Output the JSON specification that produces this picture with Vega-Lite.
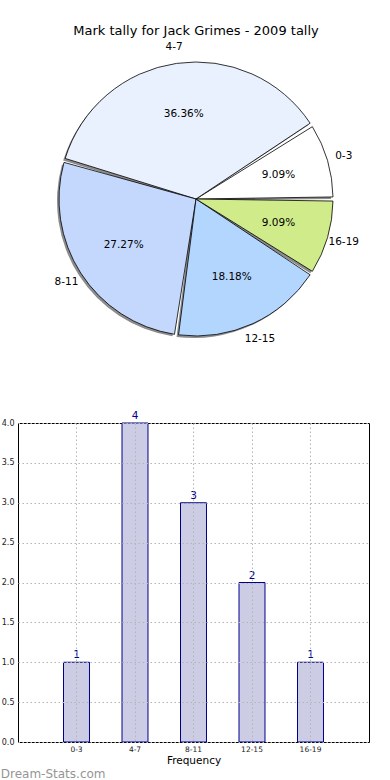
{
  "$schema": "https://vega.github.io/schema/vega-lite/v6.json",
  "padding": {"left": 0, "top": 24, "right": 0, "bottom": 0},
  "background": "white",
  "config": {"font": "DejaVu Sans"},
  "datasets": {
    "tally": [
      {"range": "0-3", "lo": 0, "count": 1, "pct": "9.09%"},
      {"range": "4-7", "lo": 4, "count": 4, "pct": "36.36%"},
      {"range": "8-11", "lo": 8, "count": 3, "pct": "27.27%"},
      {"range": "12-15", "lo": 12, "count": 2, "pct": "18.18%"},
      {"range": "16-19", "lo": 16, "count": 1, "pct": "9.09%"}
    ]
  },
  "title": {"text": "Dream-Stats.com", "orient": "bottom", "anchor": "start", "fontSize": 12, "fontWeight": "normal", "color": "#959595", "offset": 2},
  "spacing": 60,
  "vconcat": [
    {
      "width": 356,
      "height": 302,
      "view": {"stroke": null},
      "title": {"text": "Mark tally for Jack Grimes - 2009 tally", "fontSize": 13, "fontWeight": "normal", "color": "#000000", "offset": 4},
      "data": {"name": "tally"},
      "encoding": {
        "theta": {"field": "count", "type": "quantitative", "stack": true, "scale": {"range": [1.5708, -4.7124]}},
        "order": {"field": "lo", "type": "quantitative"}
      },
      "layer": [
        {
          "mark": {"type": "arc", "outerRadius": 137, "padAngle": 0.03, "fill": "#8c8c8c", "xOffset": -2, "yOffset": 2}
        },
        {
          "mark": {"type": "arc", "outerRadius": 137, "padAngle": 0.03, "stroke": "#000000", "strokeWidth": 0.8},
          "encoding": {
            "color": {"field": "range", "type": "nominal", "legend": null,
              "scale": {"domain": ["0-3", "4-7", "8-11", "12-15", "16-19"], "range": ["#ffffff", "#eaf1fe", "#c4d8fe", "#b3d6fe", "#d0eb8a"]}}
          }
        },
        {
          "mark": {"type": "text", "radius": 86, "fontSize": 10.5, "color": "#000000"},
          "encoding": {"text": {"field": "pct", "type": "nominal"}}
        },
        {
          "mark": {"type": "text", "radius": 154, "fontSize": 10.5, "color": "#000000"},
          "encoding": {"text": {"field": "range", "type": "nominal"}}
        }
      ]
    },
    {
      "width": 351,
      "height": 319,
      "view": {"stroke": "#000000", "strokeWidth": 1},
      "data": {"name": "tally"},
      "encoding": {
        "x": {"field": "range", "type": "nominal", "sort": ["0-3", "4-7", "8-11", "12-15", "16-19"],
          "scale": {"paddingInner": 0.5556, "paddingOuter": 0.7778},
          "axis": {"title": "Frequency", "titleFontSize": 10.5, "titleFontWeight": "normal", "titlePadding": 3, "labelAngle": 0, "labelFontSize": 7.5, "labelPadding": 3, "ticks": false, "domain": false,
            "grid": true, "bandPosition": 0.5, "gridColor": "#b5b5b5", "gridDash": [1.5, 2.5], "gridWidth": 1, "zindex": 1, "labelColor": "#222222", "titleColor": "#000000"}},
        "y": {"field": "count", "type": "quantitative", "scale": {"domain": [0, 4], "nice": false},
          "axis": {"title": null, "values": [0, 0.5, 1, 1.5, 2, 2.5, 3, 3.5, 4], "format": ".1f", "labelFontSize": 8, "labelPadding": 4, "labelOverlap": false, "ticks": false, "domain": false,
            "grid": true, "gridColor": "#b5b5b5", "gridDash": [1.5, 2.5], "gridWidth": 1, "zindex": 1, "minExtent": 16, "maxExtent": 16, "labelColor": "#222222"}}
      },
      "layer": [
        {
          "mark": {"type": "bar", "fill": "#ccccE5", "stroke": "#00008b", "strokeWidth": 1}
        },
        {
          "mark": {"type": "text", "baseline": "bottom", "dy": -2, "color": "#00008b", "fontSize": 10.5},
          "encoding": {
            "text": {"field": "count", "type": "quantitative"}
          }
        }
      ]
    }
  ]
}
